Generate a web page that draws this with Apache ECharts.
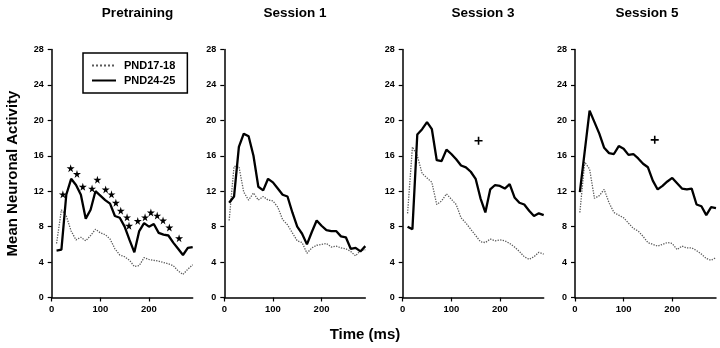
<!DOCTYPE html>
<html><head><meta charset="utf-8">
<script src="https://cdn.jsdelivr.net/npm/echarts@6/dist/echarts.min.js"></script>
<style>html,body{margin:0;padding:0;background:#fff}#c{width:720px;height:348px}</style>
</head><body><div id="c"></div>
<script>
const times = [10,20,30,40,50,60,70,80,90,100,110,120,130,140,150,160,170,180,190,200,210,220,230,240,250,260,270,280,290];
const panelTitles = ['Pretraining','Session 1','Session 3','Session 5'];
const seriesNames = ['PND17-18','PND24-25'];
const yTicks = [0,4,8,12,16,20,24,28];
const xTicks = [0,100,200];

const preYoung = [6.1,9.9,9.2,7.5,6.5,6.8,6.4,7.0,7.7,7.3,7.1,6.6,5.5,4.8,4.6,4.2,3.5,3.6,4.5,4.3,4.2,4.1,3.95,3.8,3.6,3.0,2.6,3.2,3.7];
const preOld   = [5.3,5.4,11.6,13.4,12.7,11.6,8.9,9.9,12.0,11.5,11.0,10.6,9.2,9.0,8.0,6.5,5.1,7.5,8.4,8.0,8.3,7.3,7.1,7.0,6.2,5.5,4.8,5.6,5.7];
const s1Young  = [8.7,14.8,14.8,11.9,11.0,11.8,11.0,11.4,11.0,10.9,10.2,8.8,8.2,7.3,6.4,6.2,5.0,5.6,5.9,6.0,6.1,5.7,5.8,5.6,5.5,5.2,4.7,5.3,5.4];
const s1Old    = [10.7,11.4,17.0,18.5,18.2,16.0,12.5,12.1,13.4,13.0,12.3,11.6,11.4,9.6,8.0,7.2,6.0,7.4,8.7,8.1,7.6,7.5,7.5,6.9,6.8,5.5,5.6,5.2,5.8];
const s3Young  = [9.5,17.0,16.0,14.0,13.5,13.0,10.5,10.9,11.7,11.1,10.5,9.0,8.4,7.7,7.0,6.3,6.2,6.6,6.4,6.5,6.4,6.1,5.7,5.2,4.6,4.3,4.6,5.1,4.9];
const s3Old    = [8.0,7.7,18.4,19.0,19.8,19.0,15.5,15.4,16.7,16.2,15.6,14.9,14.7,14.2,13.4,11.2,9.6,12.2,12.7,12.6,12.3,12.8,11.3,10.7,10.5,9.8,9.2,9.5,9.3];
const s5Young  = [9.6,15.3,14.5,11.2,11.5,12.2,10.7,9.6,9.3,9.0,8.4,7.8,7.5,6.9,6.2,6.0,5.8,6.0,6.2,6.1,5.4,5.8,5.6,5.6,5.3,4.9,4.4,4.2,4.5];
const s5Old    = [11.9,16.5,21.1,19.8,18.5,16.9,16.3,16.2,17.1,16.8,16.1,16.2,15.7,15.1,14.7,13.2,12.2,12.6,13.1,13.5,12.9,12.3,12.2,12.3,10.5,10.3,9.3,10.2,10.1];

const starTimes  = [23,39,52,64,83,94,111,123,132,142,155,159,177,192,204,217,229,242,262];
const starValues = [11.65,14.6,13.95,12.5,12.3,13.3,12.2,11.65,10.7,9.8,9.05,8.1,8.65,9.05,9.6,9.25,8.7,7.9,6.7];
const plusTimes  = [156,164];
const plusValues = [17.7,17.8];

const youngSets = [preYoung, s1Young, s3Young, s5Young];
const oldSets = [preOld, s1Old, s3Old, s5Old];
const gridLefts = [51.7, 224.3, 402.7, 575];
const titleCenters = [132.5, 290, 478, 642];

const FONT = 'Liberation Sans, Arial, sans-serif';
const pair = (xs, ys) => xs.map((x,i)=>[x, ys[i]]);

const grids = [], xAxes = [], yAxes = [], series = [], titles = [];
for (let p = 0; p < 4; p++) {
  grids.push({left: gridLefts[p], top: 49.5, width: 141, height: 248, containLabel: false});
  xAxes.push({
    type: 'value', gridIndex: p, min: 0, max: 290, interval: 100,
    axisLine: {show: true, lineStyle: {color: '#000', width: 1.5}},
    axisTick: {show: true, length: 4, inside: false, lineStyle: {color:'#000', width: 1.2}, customValues: xTicks},
    axisLabel: {fontFamily: FONT, fontWeight: 'bold', fontSize: 9.5, color: '#000', margin: 7, customValues: xTicks},
    splitLine: {show: false}
  });
  yAxes.push({
    type: 'value', gridIndex: p, min: 0, max: 28, interval: 4,
    axisLine: {show: true, lineStyle: {color: '#000', width: 1.5}},
    axisTick: {show: true, length: 4, lineStyle: {color:'#000', width: 1.2}, customValues: yTicks},
    axisLabel: {fontFamily: FONT, fontWeight: 'bold', fontSize: 9, color: '#000', margin: 8, customValues: yTicks},
    splitLine: {show: false},
    name: p === 0 ? 'Mean Neuronal Activity' : '',
    nameLocation: 'middle', nameGap: 31, nameRotate: 90,
    nameTextStyle: {fontFamily: FONT, fontWeight: 'bold', fontSize: 15, color: '#000'}
  });
  series.push({
    name: seriesNames[0], type: 'line', xAxisIndex: p, yAxisIndex: p,
    data: pair(times, youngSets[p]), symbol: 'none', smooth: false,
    lineStyle: {color: '#5a5a5a', width: 1.3, type: 'dotted'}, itemStyle: {color: '#5a5a5a'}, z: 2
  });
  series.push({
    name: seriesNames[1], type: 'line', xAxisIndex: p, yAxisIndex: p,
    data: pair(times, oldSets[p]), symbol: 'none', smooth: false,
    lineStyle: {color: '#000', width: 2.3}, itemStyle: {color: '#000'}, z: 3
  });
  titles.push({
    text: panelTitles[p], left: titleCenters[p], top: 1, textAlign: 'center',
    textStyle: {fontFamily: FONT, fontWeight: 'bold', fontSize: 13.5, color: '#000'}
  });
}
titles.push({
  text: 'Time (ms)', left: 360, top: 322, textAlign: 'center',
  textStyle: {fontFamily: FONT, fontWeight: 'bold', fontSize: 15, color: '#000'}
});

const STAR = 'path://M50,0 L61,35 L98,35 L68,57 L79,91 L50,70 L21,91 L32,57 L2,35 L39,35 Z';
const PLUS = 'path://M4,0H6V4H10V6H6V10H4V6H0V4H4Z';
series.push({
  name: 'sig', type: 'scatter', xAxisIndex: 0, yAxisIndex: 0,
  data: pair(starTimes, starValues), symbol: STAR, symbolSize: 8,
  itemStyle: {color: '#000', opacity: 1}, z: 4, silent: true
});
series.push({
  name: 'plus3', type: 'scatter', xAxisIndex: 2, yAxisIndex: 2,
  data: [[plusTimes[0], plusValues[0]]], symbol: PLUS, symbolSize: 8,
  itemStyle: {color: '#000', opacity: 1}, z: 4, silent: true
});
series.push({
  name: 'plus5', type: 'scatter', xAxisIndex: 3, yAxisIndex: 3,
  data: [[plusTimes[1], plusValues[1]]], symbol: PLUS, symbolSize: 8,
  itemStyle: {color: '#000', opacity: 1}, z: 4, silent: true
});

const chart = echarts.init(document.getElementById('c'), null, {renderer: 'canvas'});
chart.setOption({
  animation: false,
  backgroundColor: '#fff',
  title: titles,
  legend: {
    data: seriesNames, orient: 'vertical', left: 83, top: 53,
    padding: [7, 12, 7, 8], itemGap: 4, itemWidth: 24, itemHeight: 10,
    borderColor: '#000', borderWidth: 1.5, backgroundColor: '#fff',
    itemStyle: {opacity: 0},
    textStyle: {fontFamily: FONT, fontWeight: 'bold', fontSize: 11, color: '#000', padding: [0,0,0,3]}
  },
  grid: grids, xAxis: xAxes, yAxis: yAxes, series: series
});
</script></body></html>
